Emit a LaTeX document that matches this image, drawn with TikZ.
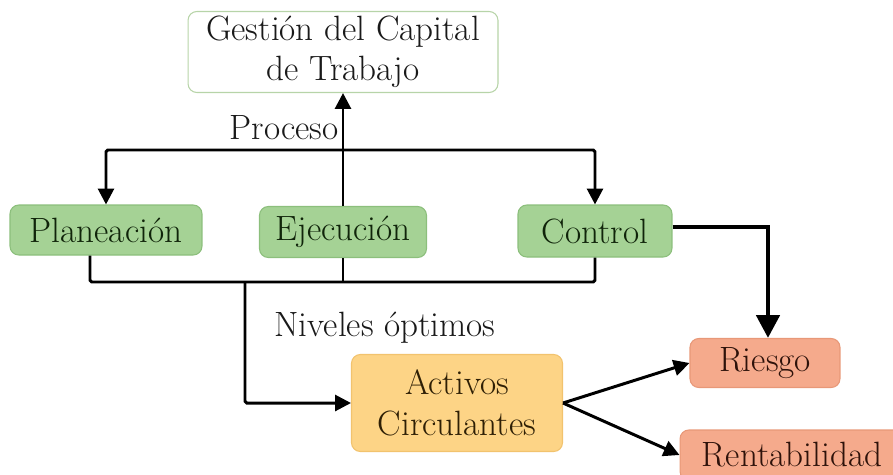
\documentclass[tikz,border=0pt]{standalone}
\usetikzlibrary{arrows.meta}
\definecolor{gfill}{HTML}{A5D295}
\definecolor{gdraw}{HTML}{8CBF7C}
\definecolor{gtext}{HTML}{10240A}
\definecolor{ofill}{HTML}{FDD486}
\definecolor{odraw}{HTML}{F2C36E}
\definecolor{otext}{HTML}{2E1F05}
\definecolor{rfill}{HTML}{F5AA8C}
\definecolor{rdraw}{HTML}{E89878}
\definecolor{rtext}{HTML}{2E120A}
\definecolor{wdraw}{HTML}{B7D4A8}
\begin{document}
\begin{tikzpicture}[x=0.02cm,y=-0.02cm,
  box/.style={rounded corners=5pt, inner sep=0pt, align=center, font=\fontsize{20}{23}\selectfont, line width=0.6pt},
  greenbox/.style={box, fill=gfill, draw=gdraw, text=gtext},
  orangebox/.style={box, fill=ofill, draw=odraw, text=otext},
  redbox/.style={box, fill=rfill, draw=rdraw, text=rtext},
  whitebox/.style={box, fill=white, draw=wdraw, text=black!90},
  conn/.style={line width=1.7pt, rounded corners=1pt},
  arr/.style={conn, -{Triangle[length=9pt,width=9pt]}},
  lbl/.style={font=\fontsize{20}{23}\selectfont, text=black!90, inner sep=0pt}]
\useasboundingbox (0,0) rectangle (893,474);
\node[whitebox, minimum width=6.2cm, minimum height=1.62cm] (gest) at (343,52) {Gestión del Capital\\de Trabajo};
\node[greenbox, minimum width=3.84cm, minimum height=1.0cm] (plan) at (106,230) {Planeación};
\node[greenbox, minimum width=3.34cm, minimum height=1.02cm] (ejec) at (343,232) {Ejecución};
\node[greenbox, minimum width=3.08cm, minimum height=1.04cm] (ctrl) at (595,231) {Control};
\node[orangebox, minimum width=4.22cm, minimum height=1.94cm] (act) at (457,403) {Activos\\Circulantes};
\node[redbox, minimum width=3.0cm, minimum height=0.98cm] (ries) at (765,363) {Riesgo};
\node[redbox, minimum width=4.48cm, minimum height=1.0cm] (rent) at (792,455) {Rentabilidad};
\node[lbl] (proc) at (284,128) {Proceso};
\node[lbl] (niv) at (385,328) {Niveles óptimos};
\coordinate (btop) at (343,150);
\coordinate (bbot) at (245,282);
\draw[arr] (ejec.north) -- (gest.south);
\draw[arr] (btop) -| (plan.north);
\draw[arr] (btop) -| (ctrl.north);
\draw[conn] ([xshift=-0.32cm]plan.south) |- (bbot) -| (ctrl.south);
\draw[conn] (ejec.south) -- (ejec.south |- bbot);
\draw[arr] (bbot) |- (act.west);
\draw[line width=2.8pt, -{Triangle[length=13pt,width=13pt]}] ([yshift=0.08cm]ctrl.east) -| ([xshift=0.06cm]ries.north);
\draw[arr] (act.east) -- (ries.west);
\draw[arr] (act.east) -- (rent.west);
\end{tikzpicture}
\end{document}
